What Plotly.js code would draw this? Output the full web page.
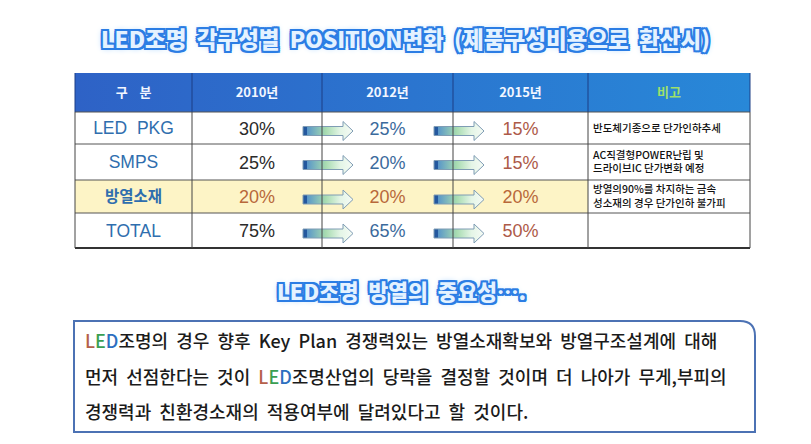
<!DOCTYPE html>
<html>
<head>
<meta charset="utf-8">
<script src="https://cdn.plot.ly/plotly-3.0.1.min.js"></script>
<style>html,body{margin:0;padding:0;background:#fff;}#chart{width:811px;height:444px;}</style>
</head>
<body>
<div id="chart"></div>
<script>
// ---- data ----
const categories = ['LED  PKG', 'SMPS', '방열소재', 'TOTAL'];
const years = ['2010년', '2012년', '2015년'];
const share2010 = [30, 25, 20, 75];
const share2012 = [25, 20, 20, 65];
const share2015 = [15, 15, 20, 50];
const notes = ['반도체기종으로 단가인하추세', 'AC직결형POWER난립 및<br>드라이브IC 단가변화 예정', '방열의90%를 차지하는 금속<br>성소재의 경우 단가인하 불가피', ''];
const headerLabels = ['구    분', years[0], years[1], years[2], '비고'];
const title = 'LED조명 각구성별 POSITION변화 (제품구성비용으로 환산시)';
const subtitle = 'LED조명 방열의 중요성….';
const LED = '<span style="color:#b5604a">L</span><span style="color:#3a9e52">E</span><span style="color:#2c6fc0">D</span>';
const bodyLines = [
  LED + '조명의 경우 향후 Key Plan 경쟁력있는 방열소재확보와 방열구조설계에 대해',
  '먼저 선점한다는 것이 ' + LED + '조명산업의 당락을 결정할 것이며 더 나아가 무게,부피의',
  '경쟁력과 친환경소재의 적용여부에 달려있다고 할 것이다.'
];

// ---- layout geometry (page units) ----
const colEdges = [75, 192, 322, 453, 588, 750];
const rowEdges = [73, 112, 144, 180, 213, 248];
const colC = i => (colEdges[i] + colEdges[i + 1]) / 2;
const rowC = i => (rowEdges[i] + rowEdges[i + 1]) / 2;
const KR = '"Noto Sans CJK KR", sans-serif';
const LAT = '"Liberation Sans", Arial, sans-serif';
const wide = s => s.replace(/ /g, '\u00A0 ');

const traces = [];
// header band
traces.push({
  x: [colEdges[0], colEdges[5], colEdges[5], colEdges[0], colEdges[0]],
  y: [rowEdges[0], rowEdges[0], rowEdges[1], rowEdges[1], rowEdges[0]],
  mode: 'lines', fill: 'toself', line: {width: 0},
  fillgradient: {type: 'horizontal', colorscale: [[0, '#2e62c6'], [1, '#2888d8']]},
  hoverinfo: 'skip'
});
// arrows between year columns
for (let r = 0; r < categories.length; r++) {
  for (const j of [2, 3]) {
    const b = colEdges[j], c = rowC(r + 1) + 3;
    traces.push({
      x: [b - 19, b + 21, b + 21, b + 31, b + 21, b + 21, b - 19, b - 19],
      y: [c - 4.5, c - 4.5, c - 9.5, c, c + 9.5, c + 4.5, c + 4.5, c - 4.5],
      mode: 'lines', fill: 'toself', line: {color: '#7f9cb4', width: 1},
      fillgradient: {type: 'horizontal', colorscale: [[0, '#24589e'], [0.08, '#24589e'], [0.09, '#5b98c8'], [0.45, '#a6dbb0'], [0.75, '#e4f5e6'], [1, '#f6fbf6']]},
      hoverinfo: 'skip'
    });
  }
}
// header labels
traces.push({
  x: [0, 1, 2, 3, 4].map(colC), y: headerLabels.map(() => rowC(0) + 1),
  mode: 'text', text: headerLabels,
  textfont: {family: KR, size: 13, color: ['#f2f6ff', '#f2f6ff', '#f2f6ff', '#f2f6ff', '#9fe06a'], weight: 'bold'},
  hoverinfo: 'skip'
});
// row labels
const isKo = c => /[가-힣]/.test(c);
traces.push({
  x: categories.map(() => colC(0)), y: categories.map((_, i) => rowC(i + 1) + 2),
  mode: 'text', text: categories,
  textfont: {family: categories.map(c => isKo(c) ? KR : LAT), size: categories.map(c => isKo(c) ? 15.5 : 17.5),
             weight: categories.map(c => isKo(c) ? 'bold' : 'normal'), color: '#2f6eae'},
  hoverinfo: 'skip'
});
const hl = categories.indexOf('방열소재');
function valTrace(col, vals, baseColor) {
  return {
    x: vals.map(() => colC(col)), y: vals.map((_, i) => rowC(i + 1) + 2),
    mode: 'text', text: vals.map(v => v + '%'),
    textfont: {family: LAT, size: 18, color: vals.map((_, i) => i === hl ? '#b8683a' : baseColor)},
    hoverinfo: 'skip'
  };
}
traces.push(valTrace(1, share2010, '#2a2a2a'));
traces.push(valTrace(2, share2012, '#3b6a9c'));
traces.push(valTrace(3, share2015, '#ad5a48'));
// notes
traces.push({
  x: notes.map(() => colEdges[4] + 5), y: notes.map((_, i) => rowC(i + 1) + 1),
  mode: 'text', text: notes, textposition: 'middle right',
  textfont: {family: KR, size: 10.5, color: '#111', weight: 500},
  hoverinfo: 'skip'
});

const shapes = [];
// highlight row
shapes.push({type: 'rect', layer: 'below', x0: colEdges[0], x1: colEdges[4], y0: rowEdges[hl + 1], y1: rowEdges[hl + 2], fillcolor: '#fdf4c6', line: {width: 0}});
// horizontal lines
for (let i = 1; i < rowEdges.length; i++) {
  const last = i === rowEdges.length - 1;
  shapes.push({type: 'line', layer: 'above', x0: colEdges[0], x1: colEdges[5], y0: rowEdges[i], y1: rowEdges[i], line: {color: last ? '#333' : '#555', width: last ? 2 : 1}});
}
// vertical lines
for (let j = 0; j < colEdges.length; j++) {
  shapes.push({type: 'line', layer: 'above', x0: colEdges[j], x1: colEdges[j], y0: rowEdges[1], y1: rowEdges[rowEdges.length - 1], line: {color: '#444', width: 1}});
  shapes.push({type: 'line', layer: 'above', x0: colEdges[j], x1: colEdges[j], y0: rowEdges[0], y1: rowEdges[1], line: {color: '#1d3f86', width: 1}});
}
// text box with rounded top-right corner
shapes.push({type: 'path', layer: 'below', path: 'M 74 321 L 740 321 Q 755 321 755 336 L 755 432 L 74 432 Z', line: {color: '#4c72b4', width: 2}, fillcolor: 'rgba(0,0,0,0)'});

const bc = '#2b7de4';
const glow = [[-2, -2], [2, -2], [-2, 2], [2, 2], [0, -2], [0, 2], [-2, 0], [2, 0]].map(p => p[0] + 'px ' + p[1] + 'px 0 ' + bc).join(', ') + ', 0 0 6px #8fc6ff';
const annotations = [
  {x: 405, y: 38, xref: 'x', yref: 'y', text: wide(title), showarrow: false,
   font: {family: KR, size: 22.5, color: '#e4f2ff', weight: 900, shadow: glow}},
  {x: 401, y: 290, xref: 'x', yref: 'y', text: wide(subtitle), showarrow: false,
   font: {family: KR, size: 21.5, color: '#e4f2ff', weight: 900, shadow: glow}}
];
const lineY = [340, 376, 411];
bodyLines.forEach((t, i) => annotations.push({
  x: 83, y: lineY[i], xref: 'x', yref: 'y', xanchor: 'left', text: t.replace(/ (?![^<]*>)/g, '\u00A0 '), showarrow: false,
  font: {family: KR, size: 18, color: '#1b1b1b', weight: 500}
}));

const layout = {
  width: 811, height: 444,
  margin: {l: 0, r: 0, t: 0, b: 0},
  paper_bgcolor: '#fff', plot_bgcolor: '#fff',
  showlegend: false,
  xaxis: {range: [0, 811], visible: false, fixedrange: true},
  yaxis: {range: [444, 0], visible: false, fixedrange: true},
  shapes: shapes, annotations: annotations
};
Plotly.newPlot('chart', traces, layout, {staticPlot: true, displayModeBar: false});
</script>
</body>
</html>
